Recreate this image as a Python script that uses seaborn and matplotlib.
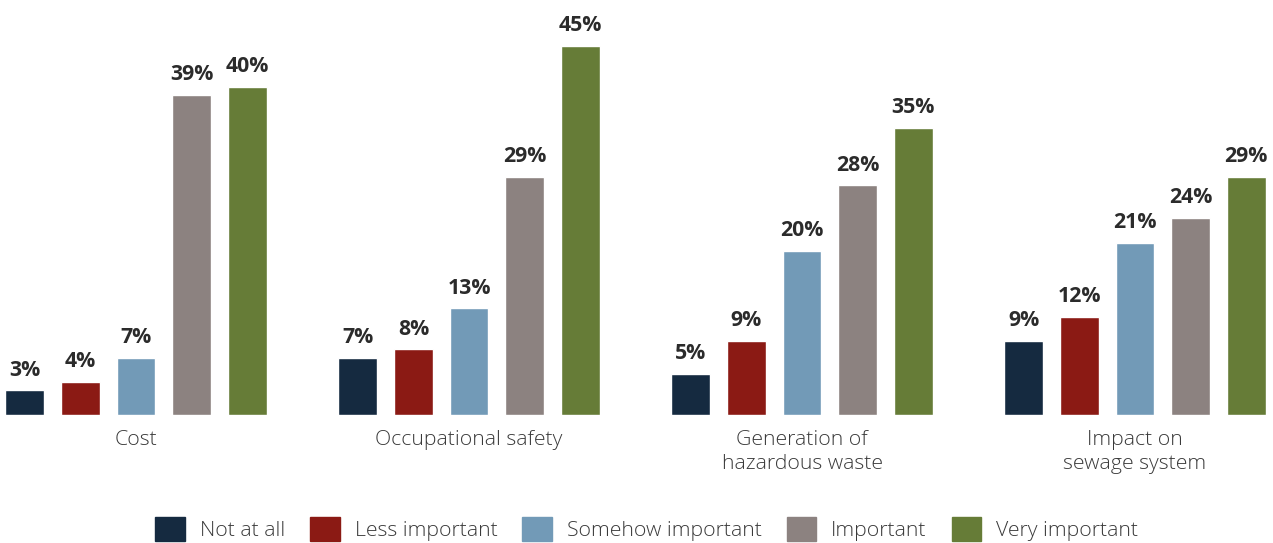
import pandas as pd
import matplotlib.pyplot as plt
import seaborn as sns

# chart data
categories = ['Cost', 'Occupational safety', 'Generation of\nhazardous waste', 'Impact on\nsewage system']
levels = ['Not at all', 'Less important', 'Somehow important', 'Important', 'Very important']
not_at_all = [3, 7, 5, 9]
less_important = [4, 8, 9, 12]
somehow_important = [7, 13, 20, 21]
important = [39, 29, 28, 24]
very_important = [40, 45, 35, 29]

colors = ['#152a40', '#8b1a14', '#729ab7', '#8c8280', '#667c37']

rows = []
for level, vals in zip(levels, [not_at_all, less_important, somehow_important, important, very_important]):
    for cat, v in zip(categories, vals):
        rows.append({'category': cat, 'level': level, 'value': v})
df = pd.DataFrame(rows)

sns.set_style('white')
plt.rcParams['font.family'] = ['Open Sans', 'DejaVu Sans']

fig = plt.figure(figsize=(12.73, 5.43), dpi=100)
ax = fig.add_axes([0, 1 - 415 / 543, 1, 415 / 543])

sns.barplot(data=df, x='category', y='value', hue='level', order=categories,
            hue_order=levels, palette=colors, width=0.835, gap=0.3,
            saturation=1, legend=False, ax=ax)

for cont in ax.containers:
    ax.bar_label(cont, fmt='%d%%', padding=7, fontsize=15.3, fontweight='bold', color='#2b2b2b')

ax.set_xlim(-136 / 333, 3 + 138 / 333)
ax.set_ylim(0, 50.6)
ax.set_xlabel('')
ax.set_ylabel('')
ax.set_yticks([])
ax.tick_params(axis='x', length=0, pad=11, labelsize=15.3, labelcolor='#3a3a3a')
for lbl in ax.get_xticklabels():
    lbl.set_fontweight('light')
    lbl.set_linespacing(1.25)
sns.despine(ax=ax, left=True, bottom=True)

handles = [plt.Rectangle((0, 0), 1, 1, color=c) for c in colors]
leg = fig.legend(handles, levels, loc='center', bbox_to_anchor=(0.508, 1 - 529 / 543), ncol=5,
                 frameon=False, handlelength=1.4, handleheight=1.35, handletextpad=0.7,
                 columnspacing=1.17, prop={'size': 15.3, 'weight': 'light'})
for t in leg.get_texts():
    t.set_color('#3a3a3a')

fig.savefig('out.png', dpi=100)
